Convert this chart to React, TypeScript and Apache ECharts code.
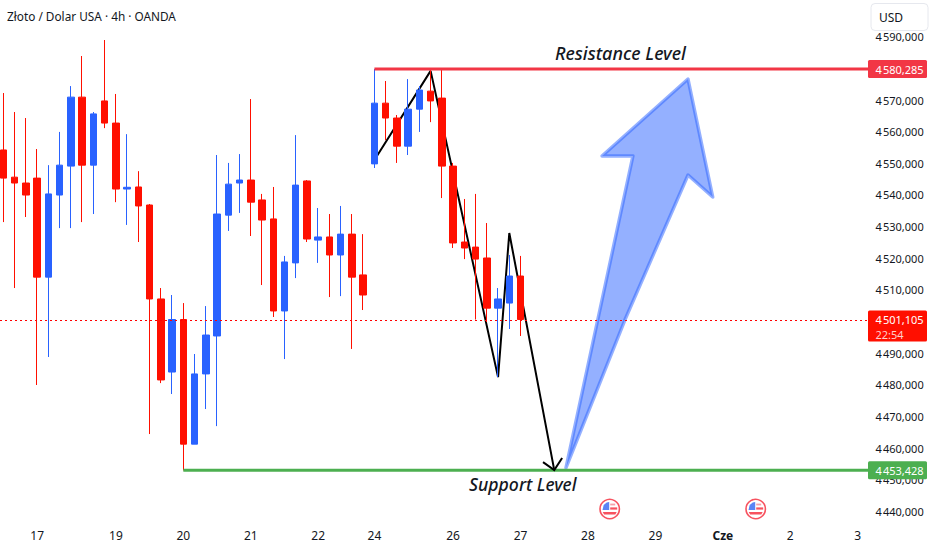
import React, { useEffect, useRef } from "react";
import * as echarts from "echarts";

const FONT = '"Noto Sans", sans-serif';
const INK = "#131722";
const UP = "#2962ff";
const DOWN = "#ff0f00";
const SHIFT = 10;

const opens = [4554.7,4546.1,4544.25,4545.8,4514.5,4540.45,4549.6,4571.4,4549.9,4570.2,4563.2,4542.35,4543,4537.3,4507.6,4484.5,4501.1,4461.7,4483.9,4495.9,4534.1,4544.25,4545.2,4538.9,4532.9,4503.8,4519,4544.9,4526.2,4527.2,4521.5,4528.1,4515.2,4550.3,4569.5,4564.8,4555.9,4567.6,4573.3,4571.1,4549.6,4525.6,4524,4520.55,4504.7,4506.3,4514.85];
const closes = [4545.8,4544.25,4540.45,4514.5,4540.8,4549.9,4571.4,4549.9,4566.1,4563.2,4542.35,4542.9,4537,4507.6,4482,4501.1,4461.7,4483.9,4496.2,4534.45,4543.9,4545.2,4538.2,4532.55,4503.8,4519.3,4543.6,4526.55,4527.2,4521.5,4528.1,4514.5,4508.85,4569.5,4564.8,4555.9,4567.6,4573.65,4570.2,4549.6,4525.3,4523.7,4520.2,4504.7,4507.6,4514.85,4501.1];
const lows = [4531.9,4511.05,4533.5,4480.4,4489.25,4530,4530,4531.9,4534.45,4561.6,4538.2,4531,4525.6,4464.9,4481,4477.55,4453.4,4461.7,4472.8,4467.4,4529.1,4534.8,4527.5,4512,4501.9,4488.6,4514.2,4525.6,4519,4508.2,4508.5,4491.8,4504.1,4549,4557.8,4550.6,4553.1,4560.4,4563.5,4539.5,4523.7,4520.2,4501.1,4500.3,4482.9,4498.1,4495.9];
const highs = [4572.7,4566.7,4564.8,4555,4549.9,4560.4,4574.9,4584.4,4566.7,4589.46,4572.4,4559.7,4548,4537.6,4511.05,4508.85,4506.3,4490.2,4505.35,4553.1,4550.6,4553.4,4570.8,4540.8,4543,4521.2,4559.4,4545.2,4536.35,4534.45,4537,4534.45,4528.1,4580.3,4576.5,4565.75,4577.1,4574.9,4580.3,4580.3,4550.6,4539.2,4540.8,4531.6,4511.05,4521.5,4521.2];

const slotCount = 78;
const labelSlots = [3, 10, 16, 22, 28, 33, 40, 46, 52, 58, 64, 70, 76];
const labelTexts = ["17", "19", "20", "21", "22", "24", "26", "27", "28", "29", "Cze", "2", "3"];

const priceTicks = { min: 4440, max: 4590, step: 10 };
const hiddenTicks = [4500, 4580];
const resistance = 4580.285;
const support = 4453.428;
const lastPrice = 4501.105;
const countdown = "22:54";
const resistanceStart = 33;
const supportStart = 16;

const zigzagSlots = [33, 38, 44, 45, 49];
const zigzagPrices = [4551.5, 4579.7, 4482.9, 4528.45, 4453.5];
const headSlots = [48, 49, 49.7];
const headPrices = [4456.0, 4453.5, 4457.3];
const arrowSlots = [50.04, 56.0, 53.25, 60.9, 63.1, 60.9, 55.3];
const arrowPrices = [4454.2, 4552.8, 4552.8, 4577.1, 4539.8, 4546.8, 4501.1];

const fmt = (v: number) => {
  const s = v.toFixed(3).replace(".", ",");
  return s.slice(0, 1) + "\u200a" + s.slice(1);
};

const categories = Array.from({ length: slotCount }, (_, i) => {
  const k = labelSlots.indexOf(i);
  return k >= 0 ? labelTexts[k] : "";
});

function flag(cx: number, cy: number) {
  return {
    type: "group",
    x: cx,
    y: cy,
    z: 100,
    children: [
      { type: "circle", shape: { cx: 0, cy: 0, r: 9.7 }, style: { fill: "#fff", stroke: "#f7525f", lineWidth: 1.6 } },
      { type: "polygon", shape: { points: [[-7, 3], [7, 3], [5.6, 5.4], [-5.6, 5.4]] }, style: { fill: "#f7525f" } },
      { type: "rect", shape: { x: 0.5, y: -1.6, width: 7, height: 2.2 }, style: { fill: "#f7525f" } },
      { type: "rect", shape: { x: 0.5, y: -5.4, width: 5, height: 1.8 }, style: { fill: "#f7a0a8" } },
      { type: "polygon", shape: { points: [[-7.2, 1], [-0.5, 1], [-0.5, -7], [-3, -6.6], [-6, -4]] }, style: { fill: "#5b84f5" } },
    ],
  };
}

export default function App() {
  const ref = useRef<HTMLDivElement>(null);
  useEffect(() => {
    const chart = echarts.init(ref.current!, undefined, { renderer: "svg" });
    const renderOverlay = (_p: any, api: any) => {
      const step = api.size([1, 0])[0];
      const pt = (slot: number, price: number) => {
        const base = Math.floor(slot);
        const c = api.coord([base, price]);
        return [c[0] + (slot - base) * step, c[1]];
      };
      const rightEdge = pt(slotCount - 1, lastPrice)[0] + step / 2;
      const tagX = rightEdge - 6.6;
      const levelLine = (from: number, price: number, color: string) => {
        const a = pt(from, price);
        return {
          type: "line",
          shape: { x1: a[0], y1: a[1], x2: tagX, y2: a[1] },
          style: { stroke: color, lineWidth: 3 },
        };
      };
      const tag = (price: number, color: string, h: number, sub?: string) => {
        const y = pt(0, price)[1];
        const top = y - 9;
        const kids: any[] = [
          { type: "rect", shape: { x: tagX, y: top, width: 59, height: h, r: 1.5 }, style: { fill: color } },
          {
            type: "text",
            style: { text: fmt(price), x: tagX + 7.5, y: y, fill: "#fff", font: `11px ${FONT}`, align: "left", verticalAlign: "middle" },
          },
        ];
        if (sub) {
          kids.push({
            type: "text",
            style: { text: sub, x: tagX + 7.5, y: y + 14.5, fill: "#ffd0cc", font: `11px ${FONT}`, align: "left", verticalAlign: "middle" },
          });
        }
        return kids;
      };
      const lastY = Math.round(pt(0, lastPrice)[1]) + 0.5;
      return {
        type: "group",
        children: [
          {
            type: "polygon",
            shape: { points: arrowSlots.map((s, i) => pt(s, arrowPrices[i])) },
            style: { fill: "rgba(41,98,255,0.5)", stroke: "rgba(41,98,255,0.5)", lineWidth: 3.4, lineJoin: "round" },
          },
          {
            type: "line",
            shape: { x1: 0, y1: lastY, x2: tagX, y2: lastY },
            style: { stroke: "#ff0000", lineWidth: 1, lineDash: [2, 3], opacity: 1 },
          },
          levelLine(resistanceStart, resistance, "#f23645"),
          levelLine(supportStart, support, "#4caf50"),
          {
            type: "polyline",
            shape: { points: headSlots.map((s, i) => pt(s, headPrices[i])) },
            style: { stroke: "#000", lineWidth: 2, fill: "none" },
          },
          ...tag(resistance, "#f23645", 18),
          ...tag(support, "#4caf50", 18),
          ...tag(lastPrice, DOWN, 31, countdown),
        ],
      };
    };
    chart.setOption({
      animation: false,
      backgroundColor: "#fff",
      textStyle: { fontFamily: FONT },
      grid: { left: SHIFT - 2.12, top: 38.3, width: 876.72, height: 474.5, containLabel: false },
      xAxis: {
        type: "category",
        data: categories,
        boundaryGap: true,
        axisLine: { show: false },
        axisTick: { show: false },
        splitLine: { show: false },
        axisLabel: {
          interval: 0,
          margin: 17,
          color: INK,
          fontFamily: FONT,
          fontSize: 12,
          hideOverlap: false,
          formatter: (v: string) => (v === "Cze" ? `{b|${v}}` : v),
          rich: { b: { fontFamily: FONT, fontSize: 12, fontWeight: "bold", color: INK } },
        },
      },
      yAxis: {
        type: "value",
        position: "right",
        min: priceTicks.min,
        max: priceTicks.max,
        interval: priceTicks.step,
        axisLine: { show: false },
        axisTick: { show: false },
        splitLine: { show: false },
        axisLabel: {
          margin: 1,
          color: INK,
          fontFamily: FONT,
          fontSize: 11,
          formatter: (v: number) => (hiddenTicks.includes(v) ? "" : `{p|${fmt(v)}}`),
          rich: { p: { fontFamily: FONT, fontSize: 11, color: INK, padding: [0, 0, 3, 0] } },
          showMinLabel: true,
          showMaxLabel: true,
        },
      },
      series: [
        {
          type: "line",
          z: 1,
          silent: true,
          symbol: "none",
          lineStyle: { color: "#000", width: 2 },
          data: zigzagSlots.map((s, i) => [s, zigzagPrices[i]]),
        },
        {
          type: "candlestick",
          z: 2,
          barWidth: 7,
          itemStyle: { color: UP, color0: DOWN, borderColor: UP, borderColor0: DOWN, borderWidth: 1 },
          data: opens.map((o, i) => [o, closes[i], lows[i], highs[i]]),
        },
        {
          type: "custom",
          z: 5,
          silent: true,
          clip: false,
          renderItem: renderOverlay,
          data: [[46, lastPrice]],
        },
      ],
      graphic: [
        {
          type: "group",
          x: SHIFT,
          y: 0,
          z: 100,
          children: [
            {
              type: "text", x: 7, y: 10,
              style: { text: "Złoto / Dolar USA · 4h · OANDA", fill: INK, font: `11.8px ${FONT}` },
            },
            {
              type: "text", x: 555, y: 43.5,
              style: { text: "Resistance Level", fill: INK, font: `italic 500 18px ${FONT}` },
            },
            {
              type: "text", x: 469, y: 474.5,
              style: { text: "Support Level", fill: INK, font: `italic 500 17.6px ${FONT}` },
            },
            flag(609.7, 509),
            flag(755.7, 509),
            { type: "rect", shape: { x: 868, y: 0, width: 64, height: 33 }, style: { fill: "#fff" } },
            {
              type: "rect",
              shape: { x: 871, y: 3.5, width: 57, height: 27, r: 4 },
              style: { fill: "#fff", stroke: "#e6e8ee", lineWidth: 1 },
            },
            {
              type: "text", x: 879, y: 11,
              style: { text: "USD", fill: INK, font: `12px ${FONT}` },
            },
          ],
        },
      ],
    });
    return () => chart.dispose();
  }, []);
  return <div ref={ref} style={{ position: "fixed", left: -SHIFT, top: 0, width: 932 + SHIFT, height: 550 }} />;
}
